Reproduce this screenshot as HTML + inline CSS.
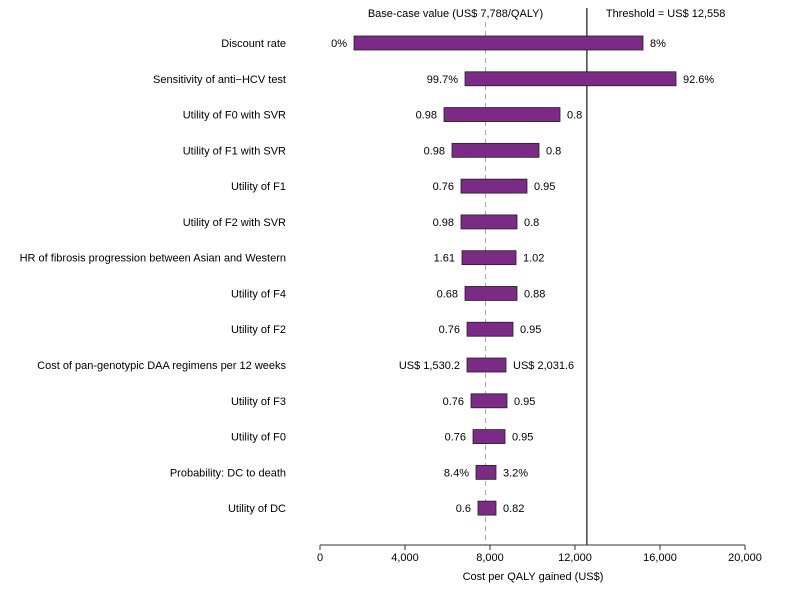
<!DOCTYPE html>
<html><head><meta charset="utf-8"><style>
body{margin:0;background:#fff}
svg{display:block;font-family:"Liberation Sans",Arial,sans-serif;font-size:11px}
</style></head><body>
<svg id="chart" width="787" height="591"></svg>
<script>
const categories=["Discount rate","Sensitivity of anti\u2212HCV test","Utility of F0 with SVR","Utility of F1 with SVR","Utility of F1","Utility of F2 with SVR","HR of fibrosis progression between Asian and Western","Utility of F4","Utility of F2","Cost of pan-genotypic DAA regimens per 12 weeks","Utility of F3","Utility of F0","Probability: DC to death","Utility of DC"];
const lowValues=[1600,6824,5835,6212,6635,6635,6682,6824,6918,6918,7106,7200,7341,7435];
const highValues=[15200,16753,11294,10306,9741,9271,9224,9271,9082,8753,8800,8706,8282,8282];
const lowLabels=["0%","99.7%","0.98","0.98","0.76","0.98","1.61","0.68","0.76","US$ 1,530.2","0.76","0.76","8.4%","0.6"];
const highLabels=["8%","92.6%","0.8","0.8","0.95","0.8","1.02","0.88","0.95","US$ 2,031.6","0.95","0.95","3.2%","0.82"];
const ticks=[0,4000,8000,12000,16000,20000];
const tickLabels=["0","4,000","8,000","12,000","16,000","20,000"];
const baseCase=7788, threshold=12558;
const svg=document.getElementById('chart');
const NS='http://www.w3.org/2000/svg';
const x=v=>320+v*(425/20000);
const y=i=>43+i*35.78;
function mk(t,a,txt){const e=document.createElementNS(NS,t);for(const k in a)e.setAttribute(k,a[k]);if(txt!=null)e.textContent=txt;svg.appendChild(e);return e;}
let e;
e=mk('line',{x1:x(baseCase),x2:x(baseCase),y1:22,y2:545,stroke:'#aaa','stroke-dasharray':'5,4','stroke-width':1});


e=mk('line',{x1:x(threshold),x2:x(threshold),y1:8,y2:545,stroke:'#444','stroke-width':1.5});


e=mk('text',{x:x(baseCase)-30,y:17,'text-anchor':'middle'},'Base-case value (US$ 7,788/QALY)');


e=mk('text',{x:x(threshold)+19,y:17,'text-anchor':'start'},'Threshold = US$ 12,558');


categories.forEach((c,i)=>{
  const cy=y(i);
  e=mk('text',{x:286,y:cy+4,'text-anchor':'end'},c);
  
  
  e=mk('rect',{x:x(lowValues[i]),y:cy-7,width:x(highValues[i])-x(lowValues[i]),height:14,fill:'#7b2a85',stroke:'#222','stroke-width':0.8});
  
  
  e=mk('text',{x:x(lowValues[i])-7,y:cy+4,'text-anchor':'end'},lowLabels[i]);
  
  
  e=mk('text',{x:x(highValues[i])+7,y:cy+4,'text-anchor':'start'},highLabels[i]);
  
  
});
e=mk('line',{x1:320,x2:745,y1:545,y2:545,stroke:'#333','stroke-width':1});


ticks.forEach((t,i)=>{
  e=mk('line',{x1:x(t),x2:x(t),y1:545,y2:550,stroke:'#333'});
  
  
  e=mk('text',{x:x(t),y:561,'text-anchor':'middle'},tickLabels[i]);
  
  
});
e=mk('text',{x:533,y:580,'text-anchor':'middle'},'Cost per QALY gained (US$)');


</script>
</body></html>
